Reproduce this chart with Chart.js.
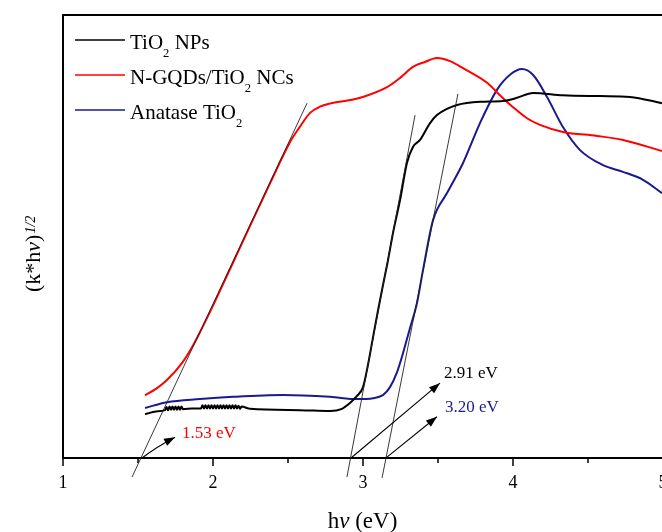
<!DOCTYPE html>
<html>
<head>
<meta charset="utf-8">
<script src="https://cdn.jsdelivr.net/npm/chart.js@4.4.1/dist/chart.umd.min.js"></script>
<style>
  html, body { margin: 0; padding: 0; background: #fff; overflow: hidden; }
  #wrap { position: absolute; left: 0; top: 0; width: 700px; height: 532px; }
</style>
</head>
<body>
<div id="wrap"><canvas id="chart" width="700" height="532"></canvas></div>
<script>
const SERIF = '"Liberation Serif", "Times New Roman", serif';

// photon energy (eV) and (k*hv)^1/2 in arbitrary units
const tioX = [1.547, 1.62, 1.68, 1.69, 1.70, 1.71, 1.72, 1.73, 1.74, 1.75, 1.76, 1.77, 1.78, 1.79, 1.80, 1.86,
  1.92, 1.93, 1.94, 1.95, 1.96, 1.97, 1.98, 1.99, 2.00, 2.01, 2.02, 2.03, 2.04, 2.05, 2.06, 2.07, 2.08, 2.09, 2.10, 2.11, 2.12, 2.13, 2.14, 2.15, 2.16, 2.17, 2.18, 2.19,
  2.247, 2.58, 2.78, 2.86, 2.913, 2.96, 3.0, 3.033, 3.067, 3.1, 3.133, 3.167, 3.2, 3.247, 3.293, 3.333, 3.38, 3.447, 3.493, 3.56, 3.627, 3.78, 3.933, 4.027, 4.133, 4.333, 4.58, 4.78, 4.993];
const tioY = [9.9, 10.5, 10.8, 11.5, 10.8, 11.6, 10.9, 11.6, 10.9, 11.6, 10.9, 11.6, 10.9, 11.6, 11.0, 11.2,
  11.2, 11.9, 11.2, 11.9, 11.2, 11.9, 11.2, 11.9, 11.2, 11.9, 11.2, 11.9, 11.2, 11.9, 11.2, 11.9, 11.2, 11.9, 11.2, 11.9, 11.2, 11.9, 11.2, 11.9, 11.2, 11.8, 11.1, 11.6,
  11.1, 10.8, 10.6, 11.1, 12.4, 14.0, 16.0, 21.0, 27.3, 33.3, 39.0, 44.7, 50.8, 58.2, 66.6, 70.2, 71.8, 75.6, 77.4, 78.8, 79.7, 80.4, 80.6, 81.3, 82.4, 81.9, 81.7, 81.5, 80.1];

const ncX = [1.547, 1.62, 1.693, 1.793, 1.86, 1.913, 2.0, 2.113, 2.247, 2.38, 2.513, 2.58, 2.647, 2.713, 2.78, 2.913, 3.0, 3.16, 3.247, 3.333, 3.413, 3.493, 3.58, 3.667, 3.827, 3.913, 4.0, 4.093, 4.18, 4.333, 4.56, 4.733, 4.993];
const ncY = [14.2, 15.6, 17.6, 21.4, 25.0, 28.4, 34.4, 42.6, 52.4, 62.0, 71.3, 74.8, 77.9, 79.3, 80.0, 80.8, 81.5, 83.7, 85.8, 88.3, 89.4, 90.3, 89.6, 88.0, 84.7, 81.9, 79.2, 76.7, 75.2, 73.6, 72.7, 71.8, 69.3];

const anaX = [1.547, 1.693, 1.913, 2.133, 2.467, 2.78, 2.96, 3.067, 3.133, 3.18, 3.227, 3.267, 3.313, 3.36, 3.4, 3.467, 3.56, 3.667, 3.78, 3.893, 3.98, 4.06, 4.133, 4.227, 4.333, 4.447, 4.6, 4.733, 4.867, 4.993];
const anaY = [11.3, 12.6, 13.3, 13.8, 14.2, 13.8, 13.3, 13.5, 14.2, 16.0, 19.4, 23.7, 29.3, 35.0, 42.4, 53.7, 59.8, 66.6, 75.6, 83.1, 86.5, 87.8, 86.5, 81.5, 74.7, 69.5, 66.1, 64.6, 62.8, 59.8];

// Tauc tangent lines [x0, y0, x1, y1]
const tangentNC = [1.46, -4.3, 2.627, 80.1];
const tangentTiO = [2.893, -4.3, 3.347, 77.4];
const tangentAna = [3.127, -4.5, 3.633, 82.2];

// band-gap arrows [x0, y0, x1, y1] and their labels
const arrowNC = [1.527, 0, 1.747, 4.7];
const arrowTiO = [2.92, 0, 3.513, 16.9];
const arrowAna = [3.16, 0.2, 3.493, 9.3];
const gapLabels = ['1.53 eV', '2.91 eV', '3.20 eV'];

const xTicks = [1, 2, 3, 4, 5];

const seriesNames = ['TiO2 NPs', 'N-GQDs/TiO2 NCs', 'Anatase TiO2'];
const seriesColors = ['#000000', '#ff0000', '#1a1a8e'];

const pts = (xs, ys) => xs.map((x, i) => ({ x: x, y: ys[i] }));
const seg = (a) => [{ x: a[0], y: a[1] }, { x: a[2], y: a[3] }];

function curve(i, data) {
  return {
    label: seriesNames[i], data: data, borderColor: seriesColors[i],
    borderWidth: 2, pointRadius: 0, cubicInterpolationMode: 'monotone', order: 2
  };
}
function tangent(a) {
  return {
    label: 'tangent', data: seg(a), borderColor: '#222', borderWidth: 0.9,
    pointRadius: 0, clip: false, order: 1
  };
}

// rich text with sub/superscripts: parts = [[text, kind]]
function richWidth(ctx, parts, size) {
  let w = 0;
  parts.forEach(p => {
    ctx.font = (p[1] === 'it' ? 'italic ' : '') + (p[1] === 'sub' ? size * 0.6 : size) + 'px ' + SERIF;
    w += ctx.measureText(p[0]).width;
  });
  return w;
}
function drawRich(ctx, parts, x, y, size) {
  parts.forEach(p => {
    let s = size, dy = 0, st = '';
    if (p[1] === 'sub') { s = size * 0.6; dy = size * 0.38; }
    if (p[1] === 'it') st = 'italic ';
    ctx.font = st + s + 'px ' + SERIF;
    ctx.fillText(p[0], x, y + dy);
    x += ctx.measureText(p[0]).width;
  });
}

const legendParts = [
  [['TiO', ''], ['2', 'sub'], [' NPs', '']],
  [['N-GQDs/TiO', ''], ['2', 'sub'], [' NCs', '']],
  [['Anatase TiO', ''], ['2', 'sub']]
];

function arrow(ctx, xs, ys, a, curved) {
  const x0 = xs.getPixelForValue(a[0]), y0 = ys.getPixelForValue(a[1]);
  const x1 = xs.getPixelForValue(a[2]), y1 = ys.getPixelForValue(a[3]);
  ctx.beginPath();
  ctx.moveTo(x0, y0);
  let ang;
  if (curved) {
    const cx = x0 + (x1 - x0) * 0.4, cy = y0 - (y0 - y1) * 0.5;
    ctx.quadraticCurveTo(cx, cy, x1, y1);
    ang = Math.atan2(y1 - cy, x1 - cx);
  } else {
    ctx.lineTo(x1, y1);
    ang = Math.atan2(y1 - y0, x1 - x0);
  }
  ctx.stroke();
  const L = 11, W = 4;
  ctx.beginPath();
  ctx.moveTo(x1, y1);
  ctx.lineTo(x1 - L * Math.cos(ang) + W * Math.sin(ang), y1 - L * Math.sin(ang) - W * Math.cos(ang));
  ctx.lineTo(x1 - L * Math.cos(ang) - W * Math.sin(ang), y1 - L * Math.sin(ang) + W * Math.cos(ang));
  ctx.closePath();
  ctx.fill();
}

const decor = {
  id: 'decor',
  afterDraw(chart) {
    const ctx = chart.ctx, area = chart.chartArea;
    const xs = chart.scales.x, ys = chart.scales.y;
    ctx.save();
    ctx.strokeStyle = '#000';
    ctx.fillStyle = '#000';

    // top frame
    ctx.lineWidth = 2;
    ctx.beginPath();
    ctx.moveTo(area.left - 1, area.top);
    ctx.lineTo(area.right + 40, area.top);
    ctx.stroke();

    // tick marks (major & minor)
    ctx.lineWidth = 1.5;
    xs.ticks.forEach(t => {
      const px = xs.getPixelForValue(t.value);
      const len = Number.isInteger(t.value) ? 8 : 5;
      ctx.beginPath();
      ctx.moveTo(px, area.bottom);
      ctx.lineTo(px, area.bottom + len);
      ctx.stroke();
    });

    // arrows
    ctx.lineWidth = 1.1;
    arrow(ctx, xs, ys, arrowNC, true);
    arrow(ctx, xs, ys, arrowTiO, false);
    arrow(ctx, xs, ys, arrowAna, false);

    // band gap labels
    ctx.textBaseline = 'alphabetic';
    ctx.textAlign = 'left';
    ctx.font = '17px ' + SERIF;
    ctx.fillStyle = seriesColors[1];
    ctx.fillText(gapLabels[0], xs.getPixelForValue(1.793), ys.getPixelForValue(4.5));
    ctx.fillStyle = seriesColors[0];
    ctx.fillText(gapLabels[1], xs.getPixelForValue(3.54), ys.getPixelForValue(18.1));
    ctx.fillStyle = seriesColors[2];
    ctx.fillText(gapLabels[2], xs.getPixelForValue(3.547), ys.getPixelForValue(10.4));

    // legend
    legendParts.forEach((parts, i) => {
      const ly = 40 + i * 35;
      ctx.strokeStyle = seriesColors[i];
      ctx.lineWidth = 1.6;
      ctx.beginPath();
      ctx.moveTo(75, ly);
      ctx.lineTo(125, ly);
      ctx.stroke();
      ctx.fillStyle = '#000';
      drawRich(ctx, parts, 130, ly + 9, 21);
    });

    // x title
    ctx.fillStyle = '#000';
    const xt = [['h', ''], ['\u03bd', 'it'], [' (eV)', '']];
    const xw = richWidth(ctx, xt, 23);
    drawRich(ctx, xt, (area.left + 662) / 2 - xw / 2, 528, 23);

    // y title (rotated)
    const yt = [['(k*h', ''], ['\u03bd', 'it'], [')', '']];
    const yw = richWidth(ctx, yt, 22);
    ctx.translate(40, 292);
    ctx.rotate(-Math.PI / 2);
    drawRich(ctx, yt, 0, 0, 22);
    ctx.font = 'italic 14px ' + SERIF;
    ctx.fillText('1/2', yw + 1, -5);
    ctx.restore();
  }
};

new Chart(document.getElementById('chart'), {
  type: 'line',
  data: {
    datasets: [
      curve(0, pts(tioX, tioY)),
      curve(1, pts(ncX, ncY)),
      curve(2, pts(anaX, anaY)),
      tangent(tangentNC),
      tangent(tangentTiO),
      tangent(tangentAna)
    ]
  },
  options: {
    responsive: false,
    animation: false,
    layout: { padding: { top: 15, right: 37, left: 0, bottom: 0 } },
    plugins: { legend: { display: false }, tooltip: { enabled: false } },
    scales: {
      x: {
        type: 'linear', min: 1, max: 5,
        afterFit: s => { s.height = 74; },
        afterBuildTicks: s => { s.ticks = [1, 1.5, 2, 2.5, 3, 3.5, 4, 4.5, 5].map(v => ({ value: v })); },
        grid: { display: false, drawTicks: true, tickLength: 8 },
        border: { display: true, color: '#000', width: 2 },
        ticks: {
          color: '#000', padding: 6, maxRotation: 0, autoSkip: false,
          font: { family: SERIF, size: 18 },
          callback: v => xTicks.includes(v) ? String(v) : ''
        }
      },
      y: {
        type: 'linear', min: 0, max: 100,
        afterFit: s => { s.width = 63; },
        grid: { display: false },
        border: { display: true, color: '#000', width: 2 },
        ticks: { display: false }
      }
    }
  },
  plugins: [decor]
});
</script>
</body>
</html>
